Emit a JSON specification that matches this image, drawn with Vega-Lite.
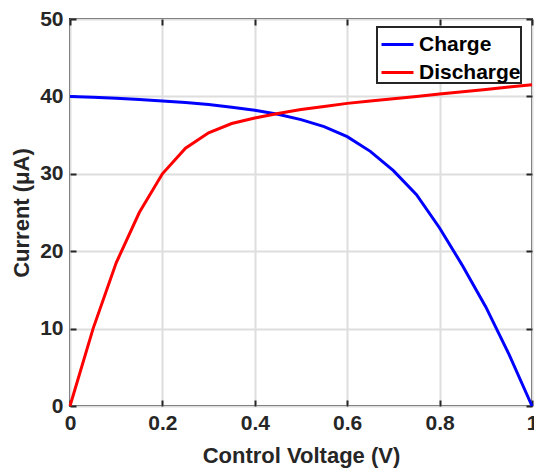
{
  "$schema": "https://vega.github.io/schema/vega-lite/v6.json",
  "autosize": "none",
  "width": 462,
  "height": 387,
  "padding": {"left": 70, "top": 19, "right": 2, "bottom": 65},
  "background": "white",
  "config": {
    "font": "Liberation Sans",
    "view": {"stroke": "#262626", "strokeWidth": 2},
    "legend": {"strokeWidth": 2},
    "axis": {
      "labelFont": "Liberation Sans",
      "labelFontWeight": "bold",
      "labelFontSize": 21,
      "labelColor": "#262626",
      "titleFont": "Liberation Sans",
      "titleFontWeight": "bold",
      "titleFontSize": 22,
      "titleColor": "#262626",
      "domain": false,
      "tickColor": "#262626",
      "tickWidth": 2,
      "tickSize": -6,
      "gridColor": "#dedede",
      "gridWidth": 2
    }
  },
  "data": {
    "values": [
      {"v": 0.00, "i": 40.0, "s": "Charge"},
      {"v": 0.05, "i": 39.9, "s": "Charge"},
      {"v": 0.10, "i": 39.75, "s": "Charge"},
      {"v": 0.15, "i": 39.6, "s": "Charge"},
      {"v": 0.20, "i": 39.4, "s": "Charge"},
      {"v": 0.25, "i": 39.2, "s": "Charge"},
      {"v": 0.30, "i": 38.95, "s": "Charge"},
      {"v": 0.35, "i": 38.6, "s": "Charge"},
      {"v": 0.40, "i": 38.2, "s": "Charge"},
      {"v": 0.45, "i": 37.7, "s": "Charge"},
      {"v": 0.50, "i": 37.0, "s": "Charge"},
      {"v": 0.55, "i": 36.1, "s": "Charge"},
      {"v": 0.60, "i": 34.8, "s": "Charge"},
      {"v": 0.65, "i": 32.9, "s": "Charge"},
      {"v": 0.70, "i": 30.4, "s": "Charge"},
      {"v": 0.75, "i": 27.3, "s": "Charge"},
      {"v": 0.80, "i": 23.0, "s": "Charge"},
      {"v": 0.85, "i": 18.1, "s": "Charge"},
      {"v": 0.90, "i": 12.8, "s": "Charge"},
      {"v": 0.95, "i": 6.7, "s": "Charge"},
      {"v": 1.00, "i": 0.0, "s": "Charge"},
      {"v": 0.00, "i": 0.0, "s": "Discharge"},
      {"v": 0.05, "i": 10.0, "s": "Discharge"},
      {"v": 0.10, "i": 18.5, "s": "Discharge"},
      {"v": 0.15, "i": 25.0, "s": "Discharge"},
      {"v": 0.20, "i": 30.0, "s": "Discharge"},
      {"v": 0.25, "i": 33.3, "s": "Discharge"},
      {"v": 0.30, "i": 35.3, "s": "Discharge"},
      {"v": 0.35, "i": 36.5, "s": "Discharge"},
      {"v": 0.40, "i": 37.2, "s": "Discharge"},
      {"v": 0.45, "i": 37.8, "s": "Discharge"},
      {"v": 0.50, "i": 38.3, "s": "Discharge"},
      {"v": 0.55, "i": 38.7, "s": "Discharge"},
      {"v": 0.60, "i": 39.1, "s": "Discharge"},
      {"v": 0.65, "i": 39.4, "s": "Discharge"},
      {"v": 0.70, "i": 39.7, "s": "Discharge"},
      {"v": 0.75, "i": 40.0, "s": "Discharge"},
      {"v": 0.80, "i": 40.3, "s": "Discharge"},
      {"v": 0.85, "i": 40.6, "s": "Discharge"},
      {"v": 0.90, "i": 40.9, "s": "Discharge"},
      {"v": 0.95, "i": 41.2, "s": "Discharge"},
      {"v": 1.00, "i": 41.5, "s": "Discharge"}
    ]
  },
  "resolve": {"axis": {"x": "independent", "y": "independent"}},
  "layer": [
    {
      "mark": {"type": "line", "strokeWidth": 3, "clip": false},
      "encoding": {
        "x": {
          "field": "v", "type": "quantitative",
          "scale": {"domain": [0, 1], "nice": false, "zero": false},
          "axis": {
            "orient": "bottom",
            "title": "Control Voltage (V)",
            "values": [0, 0.2, 0.4, 0.6, 0.8, 1],
            "labelExpr": "datum.value == 0 ? '0' : datum.value == 1 ? '1' : format(datum.value, '.1f')",
            "labelPadding": 12,
            "labelFlush": false,
            "labelOverlap": false,
            "titlePadding": 12
          }
        },
        "y": {
          "field": "i", "type": "quantitative",
          "scale": {"domain": [0, 50], "nice": false},
          "axis": {
            "orient": "left",
            "title": "Current (μA)",
            "values": [0, 10, 20, 30, 40, 50],
            "labelPadding": 13,
            "labelFlush": false,
            "labelOverlap": false,
            "titlePadding": 6
          }
        },
        "color": {
          "field": "s", "type": "nominal",
          "scale": {"domain": ["Charge", "Discharge"], "range": ["#0000ff", "#ff0000"]},
          "legend": {
            "title": null,
            "orient": "none",
            "legendX": 307,
            "legendY": 8,
            "symbolType": "stroke",
            "symbolSize": 1024,
            "symbolStrokeWidth": 3,
            "symbolOffset": 3,
            "labelFont": "Liberation Sans",
            "labelFontWeight": "bold",
            "labelFontSize": 21,
            "labelColor": "#000000",
            "labelOffset": 4,
            "labelLimit": 200,
            "rowPadding": -7,
            "padding": 0,
            "strokeColor": "#262626",
            "fillColor": "white"
          }
        }
      }
    },
    {
      "mark": {"type": "point", "opacity": 0},
      "encoding": {
        "x": {
          "field": "v", "type": "quantitative",
          "axis": {"orient": "top", "title": null, "labels": false, "grid": false, "values": [0, 0.2, 0.4, 0.6, 0.8, 1]}
        },
        "y": {
          "field": "i", "type": "quantitative",
          "axis": {"orient": "right", "title": null, "labels": false, "grid": false, "values": [0, 10, 20, 30, 40, 50]}
        }
      }
    }
  ]
}
